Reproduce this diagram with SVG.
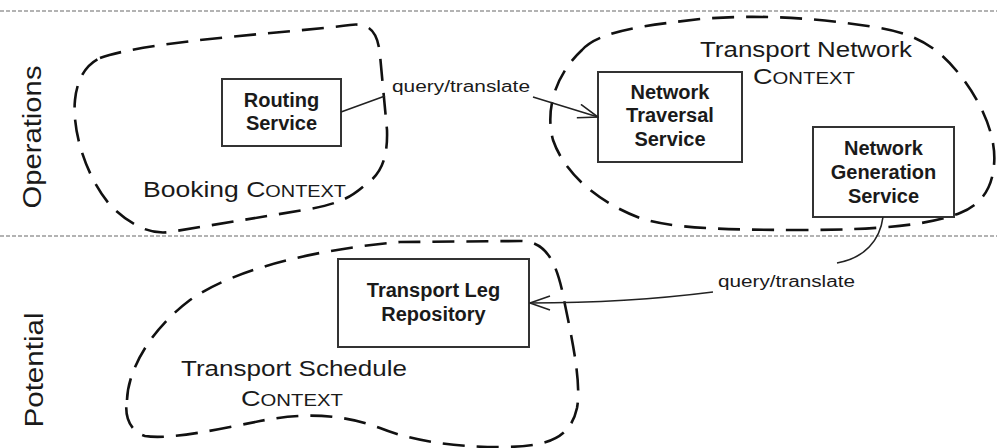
<svg xmlns="http://www.w3.org/2000/svg" width="997" height="448" viewBox="0 0 997 448">
<style>
.sep{stroke:#9a9a9a;stroke-width:1.5;stroke-dasharray:4 2;fill:none}
.blob{fill:none;stroke:#111;stroke-width:2.6;stroke-dasharray:22 12}
.box{fill:#fff;stroke:#333;stroke-width:2}
.bt{font-family:"Liberation Sans",Arial,sans-serif;font-weight:bold;font-size:20px;fill:#1a1a1a;text-anchor:middle}
.lbl{font-family:"Liberation Sans",Arial,sans-serif;font-size:22px;fill:#1a1a1a}
.sc{font-size:16.5px}
.q{font-family:"Liberation Sans",Arial,sans-serif;font-size:16px;fill:#1a1a1a}
.lane{font-family:"Liberation Sans",Arial,sans-serif;font-size:26px;fill:#1a1a1a;text-anchor:middle}
.con{fill:none;stroke:#222;stroke-width:1.6}
</style>
<defs>
<marker id="arr" viewBox="0 0 22 16" refX="21" refY="8" markerWidth="22" markerHeight="16" markerUnits="userSpaceOnUse" orient="auto">
<path d="M1,1 L21,8 L1,15" fill="none" stroke="#222" stroke-width="1.6"/>
</marker>
</defs>
<rect x="0" y="0" width="997" height="448" fill="#fff"/>
<g id="lanes">
<line class="sep" x1="0" y1="11" x2="997" y2="11"/>
<line class="sep" x1="0" y1="236" x2="997" y2="236"/>
<text class="lane" transform="translate(41,137) rotate(-90)" textLength="143" lengthAdjust="spacingAndGlyphs">Operations</text>
<text class="lane" transform="translate(43,370) rotate(-90)" textLength="115" lengthAdjust="spacingAndGlyphs">Potential</text>
</g>
<g id="booking-context">
<path class="blob" d="M100,58 C150,40 300,32 350,25 C372,22 378,35 380,55 L387,130 C388,160 380,175 365,185 C350,198 340,203 310,209 L170,232 C150,235 130,225 110,205 C85,175 72,130 75,100 C77,80 85,65 100,58 Z"/>
<text class="lbl" x="143" y="197" textLength="203" lengthAdjust="spacingAndGlyphs">Booking C<tspan class="sc">ONTEXT</tspan></text>
</g>
<g id="transport-network-context">
<path class="blob" d="M582,50 C600,30 650,25 700,19 C760,14 820,18 880,28 C920,35 940,50 960,75 C980,100 997,135 994,165 C992,190 980,205 960,213 C930,225 880,230 800,230 C720,230 670,228 640,218 C600,203 565,175 553,140 C545,110 555,75 582,50 Z"/>
<text class="lbl" x="700" y="57" textLength="212" lengthAdjust="spacingAndGlyphs">Transport Network</text>
<text class="lbl" x="753" y="84" textLength="102" lengthAdjust="spacingAndGlyphs">C<tspan class="sc">ONTEXT</tspan></text>
</g>
<g id="transport-schedule-context">
<path class="blob" d="M127,400 C128,370 150,330 190,300 C240,265 330,248 400,242 L520,241 C545,241 555,260 562,290 C570,330 582,380 577,408 C570,440 545,447 500,447 C450,447 410,440 380,428 C340,413 300,413 260,421 C220,429 170,440 145,436 C130,432 124,415 127,400 Z"/>
<text class="lbl" x="181" y="376" textLength="226" lengthAdjust="spacingAndGlyphs">Transport Schedule</text>
<text class="lbl" x="241" y="406" textLength="102" lengthAdjust="spacingAndGlyphs">C<tspan class="sc">ONTEXT</tspan></text>
</g>
<g id="routing-service">
<rect class="box" x="222" y="79" width="119" height="67"/>
<text class="bt" x="281.5" y="107">Routing</text>
<text class="bt" x="281.5" y="130">Service</text>
</g>
<g id="network-traversal-service">
<rect class="box" x="598" y="72" width="144" height="90"/>
<text class="bt" x="670" y="99">Network</text>
<text class="bt" x="670" y="122">Traversal</text>
<text class="bt" x="670" y="146">Service</text>
</g>
<g id="network-generation-service">
<rect class="box" x="813" y="127" width="141" height="90"/>
<text class="bt" x="883.5" y="155">Network</text>
<text class="bt" x="883.5" y="179">Generation</text>
<text class="bt" x="883.5" y="203">Service</text>
</g>
<g id="transport-leg-repository">
<rect class="box" x="338" y="259" width="191" height="88"/>
<text class="bt" x="433.5" y="297">Transport Leg</text>
<text class="bt" x="433.5" y="321">Repository</text>
</g>
<g id="connectors">
<path class="con" d="M341,112 L385,96 M533,97 L598,117" marker-end="url(#arr)"/>
<text class="q" x="392" y="92" textLength="138" lengthAdjust="spacingAndGlyphs">query/translate</text>
<path class="con" d="M883,217 C880,240 865,258 837,263"/>
<path class="con" d="M713,292 C650,300 580,303 530,303" marker-end="url(#arr)"/>
<text class="q" x="718" y="287" textLength="137" lengthAdjust="spacingAndGlyphs">query/translate</text>
</g>
</svg>
